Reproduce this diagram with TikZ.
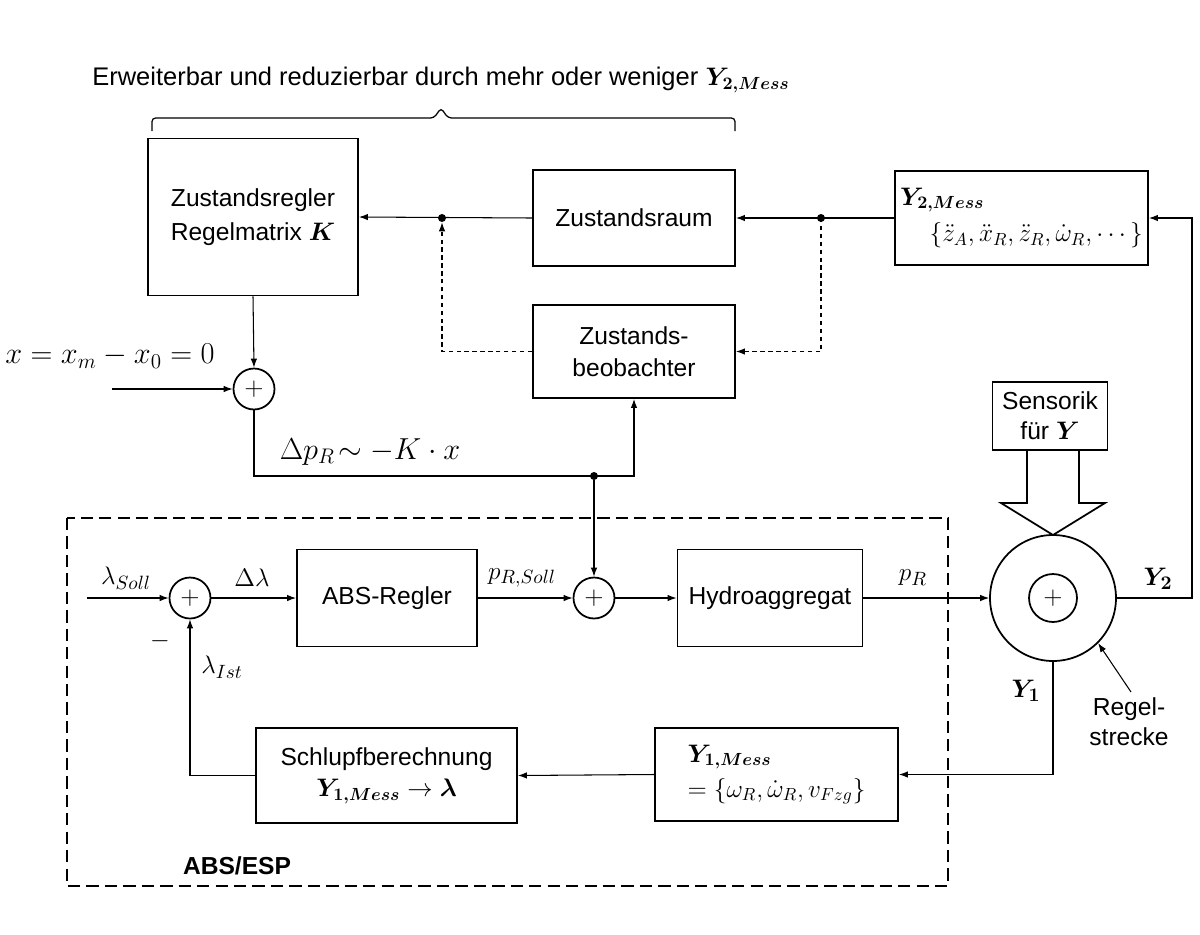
\documentclass[tikz,border=0pt]{standalone}
\usepackage{amsmath}
\usepackage{bm}
\usepackage{fontspec}
\setmainfont{Liberation Sans}
\usetikzlibrary{arrows.meta,calc}
\newcommand\lblfont{\fontsize{14}{17}\selectfont}
\newcommand\mlblfont{\fontsize{15.5}{18}\selectfont}
\newcommand\bigmath{\fontsize{17}{20}\selectfont}
\begin{document}
\begin{tikzpicture}[x=0.02cm,y=-0.02cm,
  >={Latex[length=1.8mm,width=1.3mm]},
  blk/.style={draw,line width=1.1pt,align=center,inner sep=2pt,font=\lblfont},
  sumn/.style={draw,circle,line width=1pt,minimum size=0.82cm,inner sep=0pt,font=\lblfont},
  conn/.style={line width=0.6pt},
  obs/.style={line width=0.6pt,dash pattern=on 2.5pt off 2pt},
  lbl/.style={font=\lblfont,inner sep=1pt},
  mlbl/.style={font=\mlblfont,inner sep=1pt},
  jdot/.style={circle,fill,inner sep=0pt,minimum size=1.6mm}]
\useasboundingbox (0,0) rectangle (1200,934);

% top label and brace
\node[lbl,font=\fontsize{14.5}{17}\selectfont] (toptxt) at (441,80) {Erweiterbar und reduzierbar durch mehr oder weniger $\bm{Y_{2,Mess}}$};
\draw[line width=0.7pt,rounded corners=2pt] (152,131) -- (152,118) -- (434,118) -- (441,108) -- (448,118) -- (735,118) -- (735,131);

% upper blocks
\node[blk,minimum width=4.2cm,minimum height=3.14cm] (reg) at (253,217) {Zustandsregler\\[2pt]Regelmatrix {\boldmath$K$}};
\node[blk,minimum width=4.04cm,minimum height=1.92cm] (raum) at (634,218) {Zustandsraum};
\node[blk,minimum width=4.04cm,minimum height=1.86cm] (beob) at (634,351.5) {Zustands-\\[1pt]beobachter};
\node[blk,minimum width=5.06cm,minimum height=1.88cm,align=left] (y2m) at (1021.5,218) {$\bm{Y_{2,Mess}}$\\[4pt]\hspace*{1.2em}$\{\ddot z_A,\ddot x_R,\ddot z_R,\dot\omega_R,\cdots\}$};

\node[jdot] (d1) at (442,218) {};
\node[jdot] (d2) at (821,218) {};

\draw[conn,->] (y2m.west) -- (raum.east);
\draw[conn,->] (raum.west) -- (reg.east);
\draw[obs,->] (d2.center) |- (beob.east);
\draw[obs,->] (beob.west) -| (d1.south);

% sum 1
\node[sumn] (s1) at (254,389) {$+$};
\coordinate (xin) at (112,389);
\node[inner sep=1pt,font=\bigmath] (xlbl) at (110,356) {$x=x_m-x_0=0$};
\draw[conn,->] (reg.south) -- (s1.north);
\draw[conn,->] (xin) -- (s1.west);
\node[jdot] (d3) at (594,476) {};
\coordinate (c1) at (254,476);
\coordinate (c2) at (634,476);
\draw[conn,->] (s1.south) -- (c1) -- (c2) -- (beob.south);
\node[inner sep=1pt,font=\bigmath] (dplbl) at (370,452) {$\Delta p_R\!\sim -K\cdot x$};

% ABS/ESP frame
\draw[line width=1.1pt,dash pattern=on 7pt off 3.5pt] (67,518) rectangle (948,886);
\node[font=\lblfont\bfseries] (abslbl) at (237,866) {ABS/ESP};

% main line
\node[sumn] (s2) at (190,598) {$+$};
\node[blk,minimum width=3.6cm,minimum height=1.94cm] (abs) at (387,598) {ABS-Regler};
\node[sumn] (s3) at (594,598) {$+$};
\node[blk,minimum width=3.7cm,minimum height=1.94cm] (hyd) at (770,598) {Hydroaggregat};
\node[draw,circle,line width=1pt,minimum size=2.52cm,inner sep=0pt] (big) at (1053,598) {};
\node[sumn,minimum size=0.96cm] (inner) at (1053,598) {$+$};

\coordinate (lin) at (87,598);
\draw[conn,->] (lin) -- (s2.west);
\draw[conn,->] (s2.east) -- (abs.west);
\draw[conn,->] (abs.east) -- (s3.west);
\draw[conn,->] (s3.east) -- (hyd.west);
\draw[conn,->] (hyd.east) -- (big.west);
\draw[conn,->] (d3) -- (s3.north);

\node[mlbl] (lsoll) at (126,578) {$\lambda_{Soll}$};
\node[mlbl] (dl) at (252,578) {$\Delta\lambda$};
\node[mlbl] (prsoll) at (522,578) {$p_{R,Soll}$};
\node[mlbl] (pr) at (913,578) {$p_R$};
\node[mlbl] (minus) at (160,641) {$-$};
\node[mlbl] (list) at (222,667) {$\lambda_{Ist}$};

% sensorik
\node[blk,minimum width=2.3cm,minimum height=1.36cm] (sens) at (1050,416) {Sensorik\\für $\bm{Y}$};
\draw[line width=1pt,line join=miter] (1027,450) -- (1027,503) -- (1001,503) -- (1053,535) -- (1105,503) -- (1079,503) -- (1079,450);

% lower blocks
\node[blk,minimum width=4.86cm,minimum height=1.86cm,align=left] (y1m) at (776.5,774.5) {$\bm{Y_{1,Mess}}$\\[3pt]$=\{\omega_R,\dot\omega_R,v_{Fzg}\}$};
\node[blk,minimum width=5.22cm,minimum height=1.9cm] (schl) at (386.5,775.5) {Schlupfberechnung\\[1pt]$\bm{Y_{1,Mess}}\to\bm{\lambda}$};

% Y2 feedback
\coordinate (r1) at (1192,598);
\coordinate (r2) at (1192,218);
\draw[conn,->] (big.east) -- (r1) -- (r2) -- (y2m.east);
\node[mlbl] (y2l) at (1158,579) {$\bm{Y_2}$};

% Y1 feedback
\coordinate (b1) at (1053,774.5);
\draw[conn,->] (big.south) -- (b1) -- (y1m.east);
\node[mlbl] (y1l) at (1026,691) {$\bm{Y_1}$};

\draw[conn,->] (y1m.west) -- (schl.east);
\draw[conn,->] (schl.west) -| (s2.south);

% Regelstrecke
\node[lbl,align=center] (rs) at (1129,722) {Regel-\\strecke};
\draw[conn,->] (1131,692) -- (big.south east);
\end{tikzpicture}
\end{document}
